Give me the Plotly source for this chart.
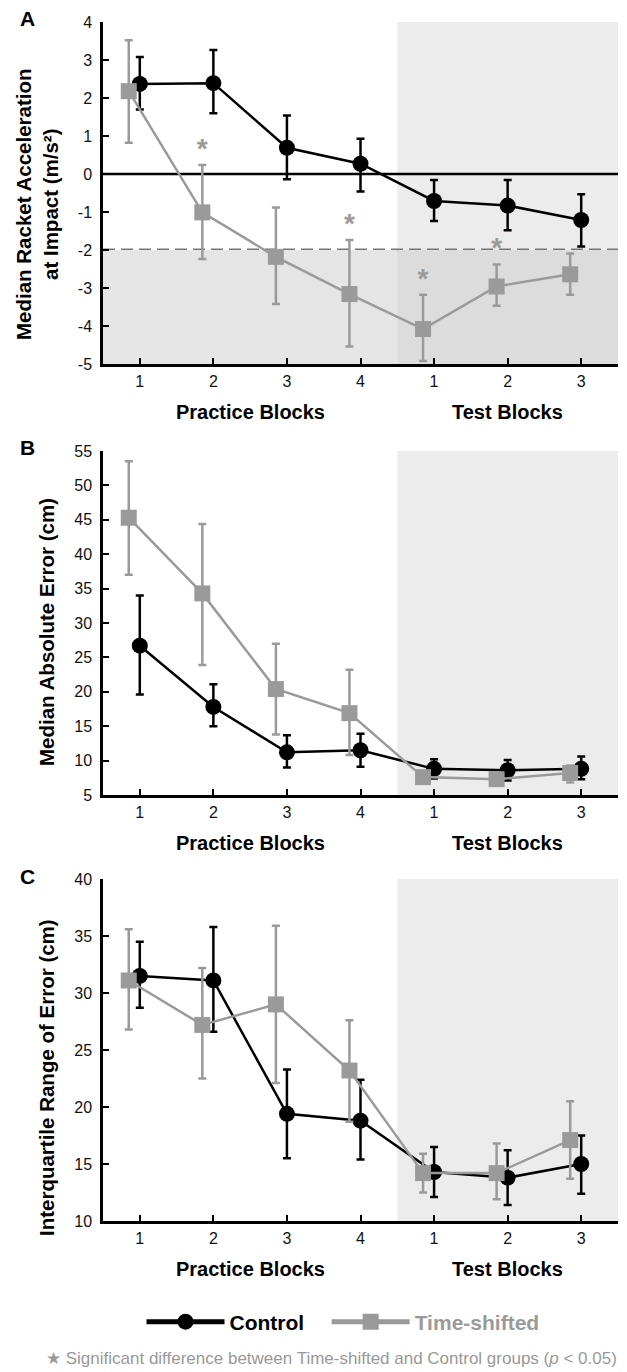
import plotly.graph_objects as go

# ---------------- data ----------------
blocks = [1, 2, 3, 4, 5, 6, 7]
tick_text = ["1", "2", "3", "4", "1", "2", "3"]
group_labels = ["Practice Blocks", "Test Blocks"]
group_centers = [2.5, 6]
test_start = 4.5
acc_threshold = -2
sig_blocks_acc = [2, 4, 5, 6]
acc_ticks = [-5, -4, -3, -2, -1, 0, 1, 2, 3, 4]
err_ticks = [5, 10, 15, 20, 25, 30, 35, 40, 45, 50, 55]
iqr_ticks = [10, 15, 20, 25, 30, 35, 40]

# Panel A: median racket acceleration at impact (m/s^2)
acc_control = [2.37, 2.39, 0.69, 0.27, -0.71, -0.83, -1.21]
acc_control_hi = [3.08, 3.26, 1.54, 0.93, -0.16, -0.16, -0.53]
acc_control_lo = [1.70, 1.60, -0.14, -0.46, -1.24, -1.48, -1.91]
acc_shift = [2.18, -1.01, -2.18, -3.16, -4.08, -2.96, -2.64]
acc_shift_hi = [3.52, 0.24, -0.88, -1.74, -3.18, -2.38, -2.09]
acc_shift_lo = [0.82, -2.24, -3.42, -4.54, -4.92, -3.47, -3.18]

# Panel B: median absolute error (cm)
err_control = [26.7, 17.8, 11.2, 11.5, 8.8, 8.6, 8.8]
err_control_hi = [34.0, 21.1, 13.7, 13.9, 10.2, 10.1, 10.6]
err_control_lo = [19.6, 15.0, 9.0, 9.1, 7.4, 7.1, 7.3]
err_shift = [45.3, 34.3, 20.4, 16.9, 7.6, 7.3, 8.2]
err_shift_hi = [53.5, 44.4, 27.0, 23.2, 8.3, 7.8, 9.3]
err_shift_lo = [37.0, 23.9, 13.8, 10.8, 7.0, 6.8, 6.8]

# Panel C: interquartile range of error (cm)
iqr_control = [31.5, 31.1, 19.4, 18.8, 14.3, 13.8, 15.0]
iqr_control_hi = [34.5, 35.8, 23.3, 22.4, 16.5, 16.2, 17.5]
iqr_control_lo = [28.7, 26.6, 15.5, 15.4, 12.1, 11.4, 12.4]
iqr_shift = [31.1, 27.2, 29.0, 23.2, 14.2, 14.2, 17.1]
iqr_shift_hi = [35.6, 32.2, 35.9, 27.6, 15.9, 16.8, 20.5]
iqr_shift_lo = [26.8, 22.5, 22.1, 18.7, 12.5, 11.9, 13.7]

# ---------------- style ----------------
PAGE_OFFSET = 8            # default body margin of the html page
W, H = 627 - PAGE_OFFSET, 1372 - PAGE_OFFSET
FONT = "Liberation Sans, Arial, Helvetica, sans-serif"
BLACK = "#000000"
GREY = "#9a9a9a"
SHIFT_OFFSET = -0.15


def px_y(p):
    return 1 - (p - PAGE_OFFSET) / H


def px_x(p):
    return (p - PAGE_OFFSET) / W


X_DOMAIN = [px_x(103), px_x(618)]
panels = [
    dict(key="", top=22, bottom=364, rng=[-5, 4], ticks=acc_ticks,
         title="Median Racket Acceleration<br>at Impact (m/s²)", title_x=37, title_y=204,
         letter="A",
         c=(acc_control, acc_control_hi, acc_control_lo),
         s=(acc_shift, acc_shift_hi, acc_shift_lo)),
    dict(key="2", top=451, bottom=795, rng=[5, 55], ticks=err_ticks,
         title="Median Absolute Error (cm)", title_x=46, title_y=632,
         letter="B",
         c=(err_control, err_control_hi, err_control_lo),
         s=(err_shift, err_shift_hi, err_shift_lo)),
    dict(key="3", top=879, bottom=1221, rng=[10, 40], ticks=iqr_ticks,
         title="Interquartile Range of Error (cm)", title_x=46, title_y=1078,
         letter="C",
         c=(iqr_control, iqr_control_hi, iqr_control_lo),
         s=(iqr_shift, iqr_shift_hi, iqr_shift_lo)),
]

fig = go.Figure()
shapes = []
annotations = []
layout = {}

for p in panels:
    xa = "x" + p["key"]
    ya = "y" + p["key"]
    xkey = "xaxis" + p["key"]
    ykey = "yaxis" + p["key"]

    shift_x = [b + SHIFT_OFFSET for b in blocks]
    sv, shi, slo = p["s"]
    cv, chi, clo = p["c"]

    # control (black circles)
    fig.add_trace(go.Scatter(
        x=blocks, y=cv, xaxis=xa, yaxis=ya, mode="lines+markers",
        line=dict(color=BLACK, width=2.5),
        marker=dict(symbol="circle", size=16, color=BLACK),
        error_y=dict(type="data", symmetric=False,
                     array=[h - v for h, v in zip(chi, cv)],
                     arrayminus=[v - l for v, l in zip(cv, clo)],
                     color=BLACK, thickness=2.5, width=4),
        showlegend=False, cliponaxis=False))
    # time-shifted (grey squares)
    fig.add_trace(go.Scatter(
        x=shift_x, y=sv, xaxis=xa, yaxis=ya, mode="lines+markers",
        line=dict(color=GREY, width=2.5),
        marker=dict(symbol="square", size=16, color=GREY),
        error_y=dict(type="data", symmetric=False,
                     array=[h - v for h, v in zip(shi, sv)],
                     arrayminus=[v - l for v, l in zip(sv, slo)],
                     color=GREY, thickness=2.5, width=4),
        showlegend=False, cliponaxis=False))

    layout[xkey] = dict(
        domain=X_DOMAIN, range=[0.5, 7.5], anchor=ya,
        tickmode="array", tickvals=blocks, ticktext=tick_text,
        ticks="inside", ticklen=6, tickwidth=2, tickcolor=BLACK,
        showline=True, linecolor=BLACK, linewidth=2.5,
        showgrid=False, zeroline=False,
        tickfont=dict(family=FONT, size=16, color="#111"),
        ticklabelstandoff=1,
    )
    layout[ykey] = dict(
        domain=[px_y(p["bottom"]), px_y(p["top"])], range=p["rng"], anchor=xa,
        tickmode="array", tickvals=p["ticks"], ticktext=[str(t) for t in p["ticks"]],
        ticks="inside", ticklen=6, tickwidth=2, tickcolor=BLACK,
        showline=True, linecolor=BLACK, linewidth=2.5,
        showgrid=False, zeroline=False,
        tickfont=dict(family=FONT, size=16, color="#111"),
        ticklabelstandoff=5,
    )

    # test-block shading
    shapes.append(dict(type="rect", xref=xa, yref=ya + " domain",
                       x0=test_start, x1=7.5, y0=0, y1=1,
                       fillcolor="#ececec", line=dict(width=0), layer="below"))

    # group labels under axis
    for lab, cx in zip(group_labels, group_centers):
        annotations.append(dict(text="<b>" + lab + "</b>", x=cx, xref=xa,
                                y=px_y(p["bottom"] + 48), yref="paper",
                                showarrow=False, xanchor="center", yanchor="middle",
                                font=dict(family=FONT, size=20, color=BLACK)))
    # y-axis title
    annotations.append(dict(text="<b>" + p["title"] + "</b>", textangle=-90,
                            x=px_x(p["title_x"]), xref="paper",
                            y=px_y(p["title_y"]), yref="paper",
                            showarrow=False, xanchor="center", yanchor="middle",
                            font=dict(family=FONT, size=20.5, color=BLACK)))
    # panel letter
    annotations.append(dict(text="<b>" + p["letter"] + "</b>",
                            x=px_x(27), xref="paper", y=px_y(p["top"] - 3), yref="paper",
                            showarrow=False, xanchor="center", yanchor="middle",
                            font=dict(family=FONT, size=21, color=BLACK)))

# Panel A extras: threshold region, zero line, dashed threshold
shapes.insert(0, dict(type="rect", xref="x", yref="y", x0=0.5, x1=test_start,
                      y0=-5, y1=acc_threshold, fillcolor="#e5e5e5",
                      line=dict(width=0), layer="below"))
shapes.append(dict(type="rect", xref="x", yref="y", x0=test_start, x1=7.5,
                   y0=-5, y1=acc_threshold, fillcolor="#dcdcdc",
                   line=dict(width=0), layer="below"))
shapes.append(dict(type="line", xref="x domain", yref="y", x0=0, x1=1,
                   y0=0, y1=0, line=dict(color=BLACK, width=2.5), layer="below"))
shapes.append(dict(type="line", xref="x domain", yref="y", x0=0, x1=1,
                   y0=acc_threshold, y1=acc_threshold,
                   line=dict(color="#777777", width=3, dash="12px,6px"), layer="below"))

# significance asterisks (panel A)
sig_idx = [blocks.index(b) for b in sig_blocks_acc]
fig.add_trace(go.Scatter(
    x=[blocks[i] + SHIFT_OFFSET for i in sig_idx],
    y=[acc_shift_hi[i] for i in sig_idx],
    xaxis="x", yaxis="y", mode="text", text=["<b>*</b>"] * len(sig_idx),
    textposition="top center",
    textfont=dict(family=FONT, size=28, color=GREY),
    showlegend=False, cliponaxis=False, hoverinfo="skip"))

# legend entries
fig.add_trace(go.Scatter(
    x=[None], y=[None], mode="lines+markers", name="<b>Control</b>\u00a0\u00a0\u00a0",
    line=dict(color=BLACK, width=5), marker=dict(symbol="circle", size=16, color=BLACK),
    showlegend=True))
fig.add_trace(go.Scatter(
    x=[None], y=[None], mode="lines+markers",
    name="<b><span style='color:#9a9a9a'>Time-shifted</span></b>",
    line=dict(color=GREY, width=5), marker=dict(symbol="square", size=16, color=GREY),
    showlegend=True))

# footnote
annotations.append(dict(
    text="★ Significant difference between Time-shifted and Control groups (<i>p</i> < 0.05)",
    x=px_x(44), xref="paper", y=px_y(1358), yref="paper",
    showarrow=False, xanchor="left", yanchor="middle",
    font=dict(family=FONT, size=17, color="#999999")))

fig.update_layout(
    width=W, height=H,
    margin=dict(l=0, r=0, t=0, b=0, autoexpand=False),
    paper_bgcolor="white", plot_bgcolor="white",
    shapes=shapes, annotations=annotations,
    legend=dict(orientation="h", x=px_x(343), xanchor="center",
                y=px_y(1322), yanchor="middle",
                font=dict(family=FONT, size=21, color=BLACK),
                itemwidth=78, bgcolor="rgba(0,0,0,0)"),
    **layout,
)

fig.write_html("out.html")
